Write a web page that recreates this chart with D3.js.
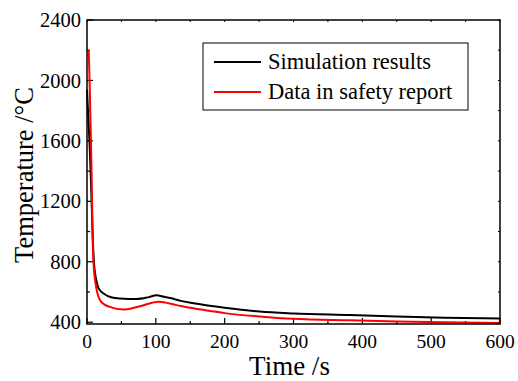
<!DOCTYPE html>
<html>
<head>
<meta charset="utf-8">
<script src="https://cdn.jsdelivr.net/npm/d3@7"></script>
<style>
  body { margin: 0; background: #fff; }
  svg text { font-family: "Times New Roman", Times, "Liberation Serif", "Nimbus Roman", "Noto Serif", "DejaVu Serif", serif; }
</style>
</head>
<body>
<div id="chart"></div>
<script>
// time (s), temperature (°C)
var simTime = [0, 2, 4, 6, 8, 10, 13, 16, 20, 24, 35, 48, 72, 90, 101, 112, 121, 136, 155, 200, 251, 300, 382, 450, 520, 600];
var simTemp = [1940, 1750, 1550, 1300, 1010, 800, 690, 634, 605, 590, 565, 557, 553, 566, 578, 568, 560, 541, 525, 495, 470, 458, 447, 437, 430, 424];

var repTime = [2.5, 4, 5.5, 7, 8, 9.5, 13, 19, 25, 33, 53, 77, 104, 130, 150, 179, 200, 250, 300, 382, 450, 520, 600];
var repTemp = [2200, 1950, 1650, 1300, 1000, 790, 640, 545, 518, 501, 484, 506, 535, 513, 495, 474, 460, 438, 422, 412, 405, 399, 395];

var xTicks = [0, 100, 200, 300, 400, 500, 600];
var yTicks = [400, 800, 1200, 1600, 2000, 2400];
var seriesNames = ["Simulation results", "Data in safety report"];
var seriesColors = ["#000000", "#ff0000"];

var W = 518, H = 381;
var margin = {top: 20, right: 18, bottom: 57, left: 87};

var svg = d3.select("#chart")
  .append("svg")
    .attr("width", W)
    .attr("height", H);

var x = d3.scaleLinear()
  .domain([0, 600])
  .range([margin.left, W - margin.right]);

var y = d3.scaleLinear()
  .domain([388, 2400])
  .range([H - margin.bottom, margin.top]);

var x0 = margin.left, x1 = W - margin.right;
var y0 = H - margin.bottom, y1 = margin.top;

// minor + major ticks, pointing inward
var g = svg.append("g").attr("stroke", "#000");
d3.range(0, 601, 50).forEach(function(t) {
  var len = (t % 100 === 0) ? 6 : 3;
  g.append("line").attr("x1", x(t)).attr("x2", x(t)).attr("y1", y0).attr("y2", y0 - len).attr("stroke-width", 1.2);
  g.append("line").attr("x1", x(t)).attr("x2", x(t)).attr("y1", y1).attr("y2", y1 + 2).attr("stroke-width", 1);
});
d3.range(400, 2401, 200).forEach(function(v) {
  var len = (v % 400 === 0) ? 6 : 3;
  g.append("line").attr("x1", x0).attr("x2", x0 + len).attr("y1", y(v)).attr("y2", y(v)).attr("stroke-width", 1.2);
  g.append("line").attr("x1", x1).attr("x2", x1 - 2).attr("y1", y(v)).attr("y2", y(v)).attr("stroke-width", 1);
});

// tick labels
svg.append("g").selectAll("text")
  .data(xTicks)
  .join("text")
    .attr("x", d => x(d))
    .attr("y", y0 + 24)
    .attr("text-anchor", "middle")
    .style("font-size", "19.5px")
    .text(d => d);

svg.append("g").selectAll("text")
  .data(yTicks)
  .join("text")
    .attr("x", x0 - 6)
    .attr("y", d => y(d))
    .attr("dy", "0.35em")
    .attr("text-anchor", "end")
    .style("font-size", "20.5px")
    .text(d => d);

// lines
var line = d3.line()
  .x(d => x(d[0]))
  .y(d => y(d[1]))
  .curve(d3.curveMonotoneX);

var sim = simTime.map((t, i) => [t, simTemp[i]]);
var rep = repTime.map((t, i) => [t, repTemp[i]]);

svg.append("path")
  .datum(sim)
  .attr("fill", "none")
  .attr("stroke", seriesColors[0])
  .attr("stroke-width", 2)
  .attr("d", line);

svg.append("path")
  .datum(rep)
  .attr("fill", "none")
  .attr("stroke", seriesColors[1])
  .attr("stroke-width", 2)
  .attr("d", line);

// frame
svg.append("rect")
  .attr("x", x0)
  .attr("y", y1)
  .attr("width", x1 - x0)
  .attr("height", y0 - y1)
  .attr("fill", "none")
  .attr("stroke", "#000")
  .attr("stroke-width", 1.5);

// axis titles
svg.append("text")
  .attr("x", (x0 + x1) / 2 - 4)
  .attr("y", 375)
  .attr("text-anchor", "middle")
  .style("font-size", "27px")
  .text("Time /s");

svg.append("text")
  .attr("transform", "translate(33,175) rotate(-90)")
  .attr("text-anchor", "middle")
  .style("font-size", "26.5px")
  .text("Temperature /°C");

// legend
var legend = svg.append("g");
legend.append("rect")
  .attr("x", 203)
  .attr("y", 43)
  .attr("width", 265)
  .attr("height", 67)
  .attr("fill", "#fff")
  .attr("stroke", "#000")
  .attr("stroke-width", 1);

seriesNames.forEach(function(name, i) {
  var ly = 62 + i * 30;
  legend.append("line")
    .attr("x1", 214).attr("x2", 261)
    .attr("y1", ly).attr("y2", ly)
    .attr("stroke", seriesColors[i])
    .attr("stroke-width", 2);
  legend.append("text")
    .attr("x", 268)
    .attr("y", ly + 7)
    .style("font-size", "22.5px")
    .text(name);
});
</script>
</body>
</html>
